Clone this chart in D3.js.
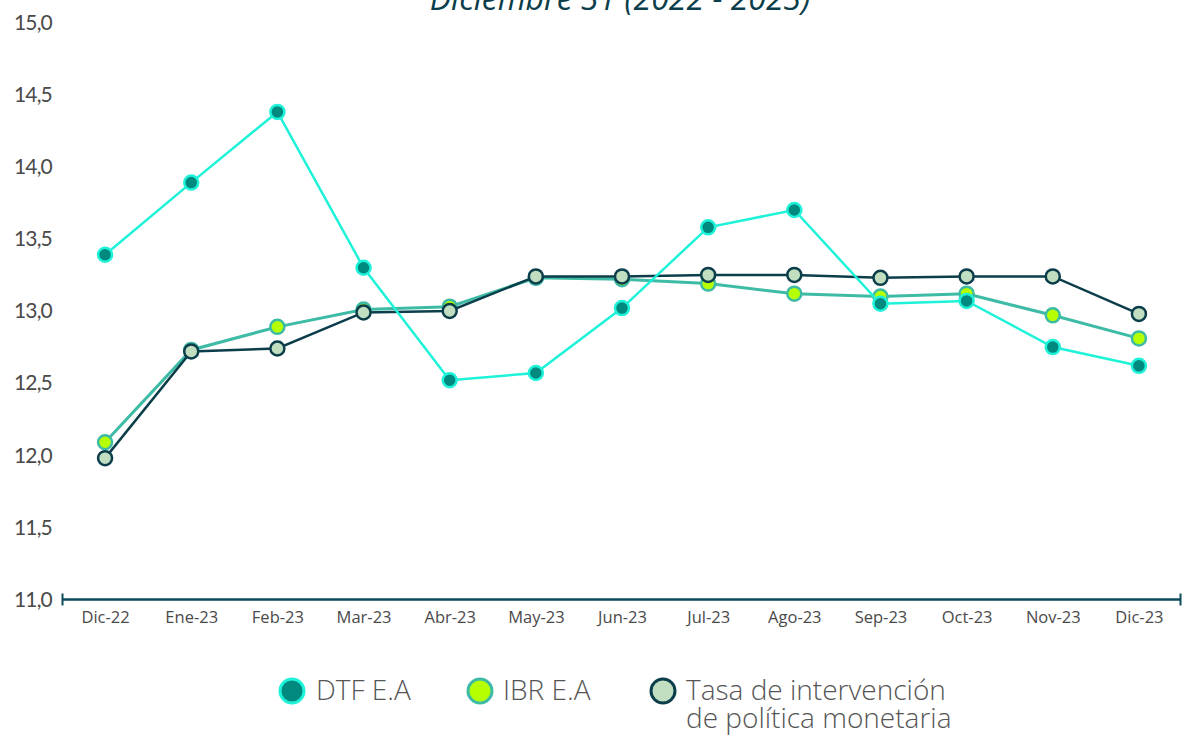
<!DOCTYPE html>
<html>
<head>
<meta charset="utf-8">
<script src="https://cdn.jsdelivr.net/npm/d3@7"></script>
<style>
html,body{margin:0;padding:0;background:#fff;}
svg{display:block;}
</style>
</head>
<body>
<svg id="chart" width="1182" height="736"></svg>
<script>
const categories = ["Dic-22","Ene-23","Feb-23","Mar-23","Abr-23","May-23","Jun-23","Jul-23","Ago-23","Sep-23","Oct-23","Nov-23","Dic-23"];
const dtf  = [13.39,13.89,14.38,13.30,12.52,12.57,13.02,13.58,13.70,13.05,13.07,12.75,12.62];
const ibr  = [12.09,12.73,12.89,13.01,13.03,13.23,13.22,13.19,13.12,13.10,13.12,12.97,12.81];
const tasa = [11.98,12.72,12.74,12.99,13.00,13.24,13.24,13.25,13.25,13.23,13.24,13.24,12.98];
const yTicks = [11.0,11.5,12.0,12.5,13.0,13.5,14.0,14.5,15.0];
const title = "Diciembre 31 (2022 - 2023)";
const seriesNames = ["DTF E.A","IBR E.A","Tasa de intervención|de política monetaria"];

const svg = d3.select("#chart");
const x = d3.scalePoint().domain(categories).range([62,1182]).padding(0.5);
const y = d3.scaleLinear().domain([11,15]).range([599.5,22.5]);

// title (partially clipped at top, as in the source)
svg.append("text").attr("x",620).attr("y",10).attr("text-anchor","middle")
  .attr("font-family","'Open Sans'").attr("font-style","italic").attr("font-size",32)
  .attr("fill","#0B3D4A").text(title);

// y tick labels
const fmt = v => d3.format(".1f")(v).replace(".",",");
svg.append("g").selectAll("text").data(yTicks).join("text")
  .attr("x",52).attr("y",d=>y(d)).attr("dy","0.35em").attr("text-anchor","end")
  .attr("font-family","Lato").attr("font-size",21).attr("fill","#4a4a4a").attr("letter-spacing","-0.8")
  .text(fmt);

// x axis
const xAxis = svg.append("g").attr("transform",`translate(0,${y(11)})`)
  .call(d3.axisBottom(x).tickSize(0).tickPadding(12).tickSizeOuter(0));
xAxis.select(".domain").remove();
xAxis.selectAll("text").attr("font-family","'Open Sans'").attr("font-size",16.5).attr("fill","#4a4a4a");
xAxis.append("line").attr("x1",62).attr("x2",1181).attr("y1",0).attr("y2",0)
  .attr("stroke","#0B4A5A").attr("stroke-width",2.5);
[62.5,1180.5].forEach(px=>xAxis.append("line").attr("x1",px).attr("x2",px).attr("y1",-6).attr("y2",6)
  .attr("stroke","#0B4A5A").attr("stroke-width",2));

const series = [
  {vals: ibr,  line:"#3DBBA5", fill:"#B5FF00", stroke:"#3DBBA5", w:3},
  {vals: tasa, line:"#0B3D4A", fill:"#C1DFC0", stroke:"#0B3D4A", w:2.5},
  {vals: dtf,  line:"#1EF2D8", fill:"#00897F", stroke:"#1EF2D8", w:2.5}
];
const line = d3.line().x((d,i)=>x(categories[i])).y(d=>y(d));
series.forEach(s=>{
  const g = svg.append("g");
  g.append("path").datum(s.vals).attr("d",line).attr("fill","none")
    .attr("stroke",s.line).attr("stroke-width",s.w);
  g.selectAll("circle").data(s.vals).join("circle")
    .attr("cx",(d,i)=>x(categories[i])).attr("cy",d=>y(d)).attr("r",7)
    .attr("fill",s.fill).attr("stroke",s.stroke).attr("stroke-width",2.5);
});

// legend
const legend = [
  {cx:292, tx:316, fill:"#00897F", stroke:"#1EF2D8", name:seriesNames[0]},
  {cx:480, tx:503, fill:"#B5FF00", stroke:"#3DBBA5", name:seriesNames[1]},
  {cx:663, tx:686, fill:"#C1DFC0", stroke:"#0B3D4A", name:seriesNames[2]}
];
const lg = svg.append("g");
legend.forEach(l=>{
  lg.append("circle").attr("cx",l.cx).attr("cy",691).attr("r",12)
    .attr("fill",l.fill).attr("stroke",l.stroke).attr("stroke-width",3);
  const t = lg.append("text").attr("x",l.tx).attr("y",700)
    .attr("font-family","'Open Sans'").attr("font-size",28).attr("font-weight",300).attr("fill","#555");
  l.name.split("|").forEach((p,i)=>t.append("tspan").attr("x",l.tx).attr("dy",i===0?0:28).text(p));
});
</script>
</body>
</html>
